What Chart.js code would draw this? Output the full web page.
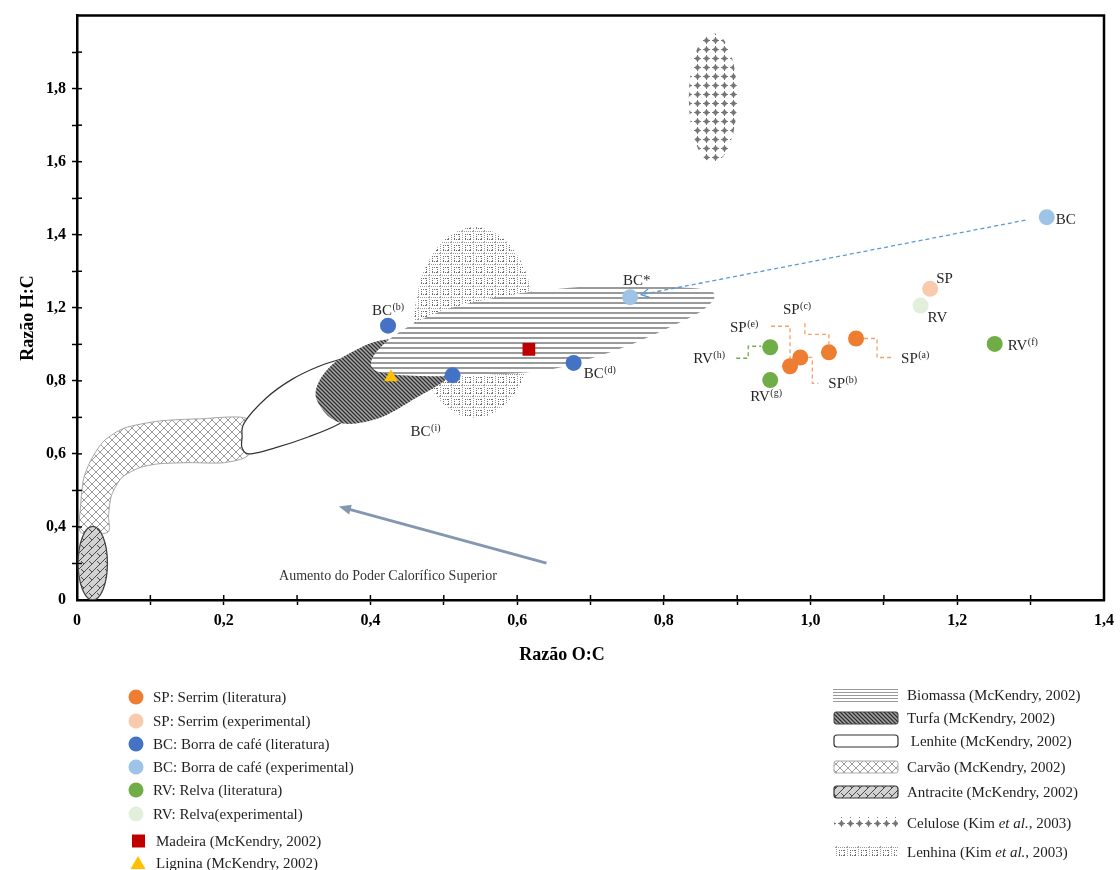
<!DOCTYPE html>
<html>
<head>
<meta charset="utf-8">
<script src="https://cdn.jsdelivr.net/npm/chart.js@4.4.0/dist/chart.umd.min.js"></script>
<style>
  html, body { margin: 0; padding: 0; background: #fff; }
  canvas { display: block; }
</style>
</head>
<body>
<canvas id="vk" width="1120" height="870" style="width:1120px;height:870px"></canvas>
<script>
// --- eixos ---
const xTickLabels = ['0','','0,2','','0,4','','0,6','','0,8','','1,0','','1,2','','1,4'];
const yTickLabels = ['0','','0,4','','0,6','','0,8','','1,2','','1,4','','1,6','','1,8','',''];

// --- pontos (O:C, H:C na escala do gráfico) ---
const spLitX = [0.972, 0.986, 1.025, 1.062];
const spLitY = [0.640, 0.664, 0.678, 0.716];
const spLitTags = ['(e)', '(b)', '(c)', '(a)'];
const spExpX = [1.163];
const spExpY = [0.852];
const bcLitX = [0.424, 0.512, 0.677];
const bcLitY = [0.751, 0.615, 0.649];
const bcLitTags = ['(b)', '(i)', '(d)'];
const bcExpX = [1.322, 0.754];
const bcExpY = [1.048, 0.829];
const bcExpTags = ['', '*'];
const rvLitX = [0.945, 0.945, 1.251];
const rvLitY = [0.692, 0.602, 0.701];
const rvLitTags = ['(h)', '(g)', '(f)'];
const rvExpX = [1.150];
const rvExpY = [0.806];
const madeiraX = [0.616];
const madeiraY = [0.686];
const ligninaX = [0.428];
const ligninaY = [0.610];

// --- regiões (McKendry 2002 / Kim et al. 2003) ---
const celuloseEllipse = [0.867, 1.375, 0.033, 0.177];   // cx, cy, rx, ry
const lenhinaEllipse = [0.542, 0.760, 0.082, 0.261];
const antraciteEllipse = [0.0215, 0.1007, 0.0200, 0.1007];
const carvaoOutline = [[0.005,0.185],[0.005,0.259],[0.009,0.332],[0.020,0.387],[0.037,0.436],[0.065,0.471],
  [0.112,0.490],[0.167,0.496],[0.232,0.496],[0.235,0.400],[0.201,0.376],[0.153,0.376],[0.112,0.373],
  [0.085,0.362],[0.061,0.335],[0.047,0.286],[0.043,0.231],[0.042,0.185]];
const lenhiteOutline = [[0.225,0.444],[0.228,0.485],[0.258,0.553],[0.293,0.604],[0.330,0.640],[0.367,0.664],
  [0.405,0.689],[0.439,0.708],[0.455,0.692],[0.432,0.613],[0.391,0.531],[0.357,0.482],[0.316,0.447],
  [0.271,0.417],[0.235,0.400],[0.225,0.417]];
const turfaOutline = [[0.326,0.553],[0.330,0.599],[0.348,0.645],[0.371,0.675],[0.408,0.708],[0.452,0.713],
  [0.493,0.681],[0.507,0.637],[0.503,0.604],[0.462,0.553],[0.416,0.501],[0.371,0.482],[0.344,0.501]];
const biomassaOutline = [[0.401,0.653],[0.418,0.700],[0.452,0.749],[0.507,0.798],[0.593,0.836],[0.697,0.858],
  [0.793,0.858],[0.858,0.849],[0.869,0.828],[0.854,0.795],[0.824,0.762],[0.756,0.700],[0.697,0.659],
  [0.639,0.629],[0.548,0.615],[0.466,0.613],[0.412,0.624]];

// --- setas ---
const bcArrow = [[1.293, 1.040], [0.769, 0.836]];
const pcsArrow = [[0.640, 0.101], [0.357, 0.256]];
const pcsText = 'Aumento do Poder Calorífico Superior';
const pcsTextAt = [0.2755, 0.0545];

const legendLeft = ['SP: Serrim (literatura)', 'SP: Serrim (experimental)', 'BC: Borra de café (literatura)',
  'BC: Borra de café (experimental)', 'RV: Relva (literatura)', 'RV: Relva(experimental)',
  'Madeira (McKendry, 2002)', 'Lignina (McKendry, 2002)'];
const legendRight = [['Biomassa (McKendry, 2002)'], ['Turfa (McKendry, 2002)'], [' Lenhite (McKendry, 2002)'],
  ['Carvão (McKendry, 2002)'], ['Antracite (McKendry, 2002)'], ['Celulose (Kim ', 'et al.', ', 2003)'],
  ['Lenhina (Kim ', 'et al.', ', 2003)']];

const FONT = '"Liberation Serif", "Times New Roman", serif';
const canvas = document.getElementById('vk');
const ctx = canvas.getContext('2d');

// --- padrões ---
function makePattern(w, h, draw) {
  const c = document.createElement('canvas');
  c.width = w; c.height = h;
  const g = c.getContext('2d');
  draw(g, w, h);
  return ctx.createPattern(c, 'repeat');
}
function diag(g, w, h, dir) {
  g.beginPath();
  for (let k = -2; k <= 2; k++) {
    if (dir > 0) { g.moveTo(k * w - 1, h + 1); g.lineTo(k * w + w + 1, -1); }
    else { g.moveTo(k * w - 1, -1); g.lineTo(k * w + w + 1, h + 1); }
  }
  g.stroke();
}
const pats = {
  biomassa: makePattern(6, 5, g => {
    g.fillStyle = '#fff'; g.fillRect(0, 0, 6, 5);
    g.fillStyle = '#9a9a9a'; g.fillRect(0, 2, 6, 2);
  }),
  turfa: makePattern(4, 4, (g, w, h) => {
    g.fillStyle = '#a8a8a8'; g.fillRect(0, 0, w, h);
    g.strokeStyle = '#2e2e2e'; g.lineWidth = 1.3; diag(g, w, h, -1);
  }),
  carvao: makePattern(8, 8, (g, w, h) => {
    g.fillStyle = '#fff'; g.fillRect(0, 0, w, h);
    g.strokeStyle = '#9c9c9c'; g.lineWidth = 1; diag(g, w, h, 1); diag(g, w, h, -1);
  }),
  antracite: makePattern(8, 8, (g, w, h) => {
    g.fillStyle = '#d2d2d2'; g.fillRect(0, 0, w, h);
    g.strokeStyle = '#4a4a4a'; g.lineWidth = 1; diag(g, w, h, 1);
    g.beginPath(); g.moveTo(1, 1); g.lineTo(4, 4); g.stroke();
  }),
  celulose: makePattern(9, 9, g => {
    g.fillStyle = '#767676';
    g.beginPath(); g.arc(4.5, 4.5, 2.3, 0, Math.PI * 2); g.fill();
    g.fillRect(1, 4, 7, 1); g.fillRect(4, 1, 1, 7);
  }),
  lenhina: makePattern(11, 11, g => {
    g.fillStyle = '#fff'; g.fillRect(0, 0, 11, 11);
    g.fillStyle = '#9a9a9a';
    for (let i = 0; i < 11; i += 2) { g.fillRect(i, 0, 1, 1); g.fillRect(0, i, 1, 1); }
    g.fillStyle = '#6e6e6e';
    for (let i = 3; i <= 8; i += 1) {
      if (i % 2) { g.fillRect(i, 3, 1, 1); g.fillRect(i, 8, 1, 1); g.fillRect(3, i, 1, 1); g.fillRect(8, i, 1, 1); }
    }
    g.fillRect(8, 8, 1, 1);
  })
};

// --- utilidades de desenho ---
function closedCurve(c, pts, k) {
  const n = pts.length;
  c.moveTo(pts[0][0], pts[0][1]);
  for (let i = 0; i < n; i++) {
    const p0 = pts[(i - 1 + n) % n], p1 = pts[i], p2 = pts[(i + 1) % n], p3 = pts[(i + 2) % n];
    c.bezierCurveTo(p1[0] + (p2[0] - p0[0]) * k, p1[1] + (p2[1] - p0[1]) * k,
      p2[0] - (p3[0] - p1[0]) * k, p2[1] - (p3[1] - p1[1]) * k, p2[0], p2[1]);
  }
  c.closePath();
}
function toPx(chart, p) {
  return [chart.scales.x.getPixelForValue(p[0]), chart.scales.y.getPixelForValue(p[1])];
}
function ellipsePath(chart, e) {
  const [cx, cy] = toPx(chart, [e[0], e[1]]);
  const [ex, ey] = toPx(chart, [e[0] + e[2], e[1] + e[3]]);
  ctx.beginPath();
  ctx.ellipse(cx, cy, Math.abs(ex - cx), Math.abs(cy - ey), 0, 0, Math.PI * 2);
}
function outlinePath(chart, pts, k) {
  ctx.beginPath();
  closedCurve(ctx, pts.map(p => toPx(chart, p)), k);
}
function drawTag(x, y, main, sup) {
  ctx.font = '15px ' + FONT;
  ctx.fillText(main, x, y);
  if (sup) {
    const w = ctx.measureText(main).width;
    ctx.font = '10px ' + FONT;
    ctx.fillText(sup, x + w + 0.5, y - 5);
  }
}
function polyline(pts) {
  ctx.beginPath();
  pts.forEach((p, i) => i ? ctx.lineTo(p[0], p[1]) : ctx.moveTo(p[0], p[1]));
  ctx.stroke();
}

// --- séries ---
const series = [
  { key: 'spExp', name: 'SP', xs: spExpX, ys: spExpY, tags: [''], color: '#F8CBAD', style: 'circle', r: 8 },
  { key: 'rvExp', name: 'RV', xs: rvExpX, ys: rvExpY, tags: [''], color: '#E2EFDA', style: 'circle', r: 8 },
  { key: 'spLit', name: 'SP', xs: spLitX, ys: spLitY, tags: spLitTags, color: '#ED7D31', style: 'circle', r: 8 },
  { key: 'rvLit', name: 'RV', xs: rvLitX, ys: rvLitY, tags: rvLitTags, color: '#70AD47', style: 'circle', r: 8 },
  { key: 'bcExp', name: 'BC', xs: bcExpX, ys: bcExpY, tags: bcExpTags, color: '#9DC3E6', style: 'circle', r: 8 },
  { key: 'bcLit', name: 'BC', xs: bcLitX, ys: bcLitY, tags: bcLitTags, color: '#4472C4', style: 'circle', r: 8 },
  { key: 'madeira', name: '', xs: madeiraX, ys: madeiraY, tags: [''], color: '#C00000', style: 'rect', r: 9 },
  { key: 'lignina', name: '', xs: ligninaX, ys: ligninaY, tags: [''], color: '#FFC000', style: 'triangle', r: 8 }
];

// deslocamentos dos rótulos (px, a partir do centro do ponto)
const labelOffsets = {
  spExp: [[6, -6]], rvExp: [[7, 16]],
  spLit: [[-60, -34], [28, 31], [-46, -38], [45, 25]],
  rvLit: [[-77, 16], [-20, 21], [13, 6]],
  bcExp: [[9, 7], [-7, -12]],
  bcLit: [[-16, -11], [-42, 61], [10, 15]]
};
const leaders = {
  spLit: [[[-19, -40], [0, -40], [0, -7]], [[8, 0], [12, 0], [12, 26], [18, 26]],
          [[-24, -29], [-24, -18], [0, -18], [0, -8]], [[8, 0], [21, 0], [21, 19], [35, 19]]],
  rvLit: [[[-34, 11], [-22, 11], [-22, -1], [-9, -1]], null, null]
};
const leaderColor = { spLit: '#F4A06A', rvLit: '#70AD47' };

const regionsPlugin = {
  id: 'regions',
  beforeDatasetsDraw(chart) {
    const a = chart.chartArea;
    ctx.save();
    ctx.beginPath(); ctx.rect(a.left, a.top, a.right - a.left, a.bottom - a.top); ctx.clip();

    ellipsePath(chart, celuloseEllipse); ctx.fillStyle = pats.celulose; ctx.fill();
    ellipsePath(chart, lenhinaEllipse); ctx.fillStyle = pats.lenhina; ctx.fill();
    outlinePath(chart, carvaoOutline, 0.12); ctx.fillStyle = pats.carvao; ctx.fill();
    ctx.strokeStyle = '#a5a5a5'; ctx.lineWidth = 1; ctx.stroke();
    ellipsePath(chart, antraciteEllipse); ctx.fillStyle = pats.antracite; ctx.fill();
    ctx.strokeStyle = '#444'; ctx.lineWidth = 1.3; ctx.stroke();
    outlinePath(chart, lenhiteOutline, 0.16); ctx.fillStyle = '#fff'; ctx.fill();
    ctx.strokeStyle = '#333'; ctx.lineWidth = 1.2; ctx.stroke();
    outlinePath(chart, turfaOutline, 0.16); ctx.fillStyle = pats.turfa; ctx.fill();
    outlinePath(chart, biomassaOutline, 0.16); ctx.fillStyle = pats.biomassa; ctx.fill();

    // seta tracejada BC -> BC*
    const [b0, b1] = bcArrow.map(p => toPx(chart, p));
    ctx.strokeStyle = '#5B9BD5'; ctx.lineWidth = 1.3; ctx.setLineDash([4, 3]);
    polyline([b0, b1]);
    ctx.setLineDash([]);
    let ang = Math.atan2(b1[1] - b0[1], b1[0] - b0[0]);
    polyline([[b1[0] - 9 * Math.cos(ang - 0.5), b1[1] - 9 * Math.sin(ang - 0.5)], b1,
              [b1[0] - 9 * Math.cos(ang + 0.5), b1[1] - 9 * Math.sin(ang + 0.5)]]);

    // seta PCS
    const [p0, p1] = pcsArrow.map(p => toPx(chart, p));
    ang = Math.atan2(p1[1] - p0[1], p1[0] - p0[0]);
    const tip = [p1[0] - 10 * Math.cos(ang), p1[1] - 10 * Math.sin(ang)];
    ctx.strokeStyle = '#8497B0'; ctx.fillStyle = '#8497B0'; ctx.lineWidth = 3;
    polyline([p0, tip]);
    ctx.beginPath();
    ctx.moveTo(p1[0], p1[1]);
    ctx.lineTo(p1[0] - 12 * Math.cos(ang) + 5 * Math.sin(ang), p1[1] - 12 * Math.sin(ang) - 5 * Math.cos(ang));
    ctx.lineTo(p1[0] - 12 * Math.cos(ang) - 5 * Math.sin(ang), p1[1] - 12 * Math.sin(ang) + 5 * Math.cos(ang));
    ctx.closePath(); ctx.fill();
    const tp = toPx(chart, pcsTextAt);
    ctx.fillStyle = '#333'; ctx.font = '14px ' + FONT; ctx.textAlign = 'left'; ctx.textBaseline = 'alphabetic';
    ctx.fillText(pcsText, tp[0], tp[1]);

    // linhas de chamada
    ctx.setLineDash([4, 3]); ctx.lineWidth = 1.3;
    series.forEach(s => {
      const ls = leaders[s.key];
      if (!ls) return;
      ctx.strokeStyle = leaderColor[s.key];
      ls.forEach((l, i) => {
        if (!l) return;
        const c = toPx(chart, [s.xs[i], s.ys[i]]);
        polyline(l.map(o => [c[0] + o[0], c[1] + o[1]]));
      });
    });
    ctx.restore();
  },
  afterDatasetsDraw(chart) {
    ctx.save();
    ctx.fillStyle = '#262626'; ctx.textAlign = 'left'; ctx.textBaseline = 'alphabetic';
    series.forEach(s => {
      const offs = labelOffsets[s.key];
      if (!offs) return;
      s.xs.forEach((v, i) => {
        const c = toPx(chart, [v, s.ys[i]]);
        const t = s.tags[i];
        if (t === '*') drawTag(c[0] + offs[i][0], c[1] + offs[i][1], s.name + '*', '');
        else drawTag(c[0] + offs[i][0], c[1] + offs[i][1], s.name, t);
      });
    });
    ctx.restore();
  },
  afterDraw(chart) {
    const a = chart.chartArea, sx = chart.scales.x, sy = chart.scales.y;
    ctx.save();
    // moldura superior e direita
    ctx.strokeStyle = '#000'; ctx.lineWidth = 2.5;
    polyline([[a.left - 1, a.top], [a.right, a.top], [a.right, a.bottom + 1]]);
    // metade interior dos traços
    ctx.lineWidth = 1.5;
    sx.ticks.forEach((t, i) => {
      if (i === 0 || i === sx.ticks.length - 1) return;
      const px = sx.getPixelForTick(i);
      polyline([[px, a.bottom], [px, a.bottom - 5]]);
    });
    sy.ticks.forEach((t, i) => {
      if (i === 0 || i === sy.ticks.length - 1) return;
      const py = sy.getPixelForTick(i);
      polyline([[a.left, py], [a.left + 5, py]]);
    });
    // títulos dos eixos
    ctx.fillStyle = '#000'; ctx.font = 'bold 18px ' + FONT;
    ctx.textAlign = 'center'; ctx.textBaseline = 'middle';
    ctx.fillText('Razão O:C', 562, 655);
    ctx.translate(28, 318); ctx.rotate(-Math.PI / 2);
    ctx.fillText('Razão H:C', 0, 0);
    ctx.setTransform(1, 0, 0, 1, 0, 0);

    // legenda esquerda
    const rowsL = [697, 721, 744, 767, 790, 814, 841, 863];
    const legendSeries = ['spLit', 'spExp', 'bcLit', 'bcExp', 'rvLit', 'rvExp', 'madeira', 'lignina'];
    ctx.textAlign = 'left'; ctx.textBaseline = 'middle';
    legendSeries.forEach((k, i) => {
      const s = series.find(q => q.key === k);
      const y = rowsL[i];
      ctx.fillStyle = s.color;
      ctx.beginPath();
      if (s.style === 'circle') ctx.arc(136, y, 7.5, 0, Math.PI * 2);
      else if (s.style === 'rect') ctx.rect(132, y - 6.5, 13, 13);
      else { ctx.moveTo(138, y - 7); ctx.lineTo(145.5, y + 6); ctx.lineTo(130.5, y + 6); ctx.closePath(); }
      ctx.fill();
      ctx.fillStyle = '#1f1f1f'; ctx.font = '15px ' + FONT;
      ctx.fillText(legendLeft[i], i >= 6 ? 156 : 153, y + 1);
    });

    // legenda direita
    const rowsR = [695, 718, 741, 767, 792, 823, 852];
    const swatches = [
      y => { ctx.strokeStyle = '#999'; ctx.lineWidth = 1; for (let j = -6; j <= 6; j += 3) polyline([[833, y + j + 0.5], [898, y + j + 0.5]]); },
      y => { ctx.beginPath(); ctx.roundRect(834, y - 6, 64, 12, 2); ctx.fillStyle = pats.turfa; ctx.fill(); ctx.strokeStyle = '#444'; ctx.lineWidth = 1; ctx.stroke(); },
      y => { ctx.beginPath(); ctx.roundRect(834, y - 6, 64, 12, 3); ctx.fillStyle = '#fff'; ctx.fill(); ctx.strokeStyle = '#333'; ctx.lineWidth = 1.2; ctx.stroke(); },
      y => { ctx.beginPath(); ctx.roundRect(834, y - 6, 64, 12, 2); ctx.fillStyle = pats.carvao; ctx.fill(); ctx.strokeStyle = '#aaa'; ctx.lineWidth = 1; ctx.stroke(); },
      y => { ctx.beginPath(); ctx.roundRect(834, y - 6, 64, 12, 3); ctx.fillStyle = pats.antracite; ctx.fill(); ctx.strokeStyle = '#333'; ctx.lineWidth = 1.2; ctx.stroke(); },
      y => { ctx.fillStyle = pats.celulose; ctx.fillRect(834, y - 6, 64, 12); },
      y => { ctx.fillStyle = pats.lenhina; ctx.fillRect(834, y - 6, 64, 11); }
    ];
    legendRight.forEach((parts, i) => {
      const y = rowsR[i];
      swatches[i](y);
      let x = 907;
      ctx.fillStyle = '#1f1f1f';
      parts.forEach((p, j) => {
        ctx.font = (j === 1 ? 'italic ' : '') + '15px ' + FONT;
        ctx.fillText(p, x, y + 1);
        x += ctx.measureText(p).width;
      });
    });
    ctx.restore();
  }
};

const tickFont = { family: FONT, size: 16, weight: 'bold' };

new Chart(ctx, {
  type: 'scatter',
  data: {
    datasets: series.map(s => ({
      label: s.key,
      data: s.xs.map((v, i) => ({ x: v, y: s.ys[i] })),
      pointStyle: s.style,
      pointRadius: s.r,
      pointHoverRadius: s.r,
      pointBorderWidth: 0,
      pointBackgroundColor: s.color,
      pointBorderColor: s.color,
      showLine: false
    }))
  },
  options: {
    responsive: false,
    animation: false,
    devicePixelRatio: 1,
    layout: { padding: { left: 10, top: 12, right: 13, bottom: 220 } },
    plugins: { legend: { display: false }, tooltip: { enabled: false } },
    scales: {
      x: {
        type: 'linear', min: 0, max: 1.4,
        ticks: { stepSize: 0.1, autoSkip: false, maxRotation: 0, padding: 6, color: '#000', font: tickFont,
          callback: (v, i) => xTickLabels[i] },
        grid: { drawOnChartArea: false, tickLength: 5, tickWidth: 1.5,
          tickColor: c => (c.index === 0 || c.index === 14) ? 'rgba(0,0,0,0)' : '#000' },
        border: { color: '#000', width: 2.5 },
        afterFit: s => { s.height = 50; }
      },
      y: {
        type: 'linear', min: 0, max: 1.6,
        ticks: { stepSize: 0.1, autoSkip: false, padding: 6, color: '#000', font: tickFont,
          callback: (v, i) => yTickLabels[i] },
        grid: { drawOnChartArea: false, tickLength: 5, tickWidth: 1.5,
          tickColor: c => (c.index === 0 || c.index === 16) ? 'rgba(0,0,0,0)' : '#000' },
        border: { color: '#000', width: 2.5 },
        afterFit: s => { s.width = 67; }
      }
    }
  },
  plugins: [regionsPlugin]
});
</script>
</body>
</html>
